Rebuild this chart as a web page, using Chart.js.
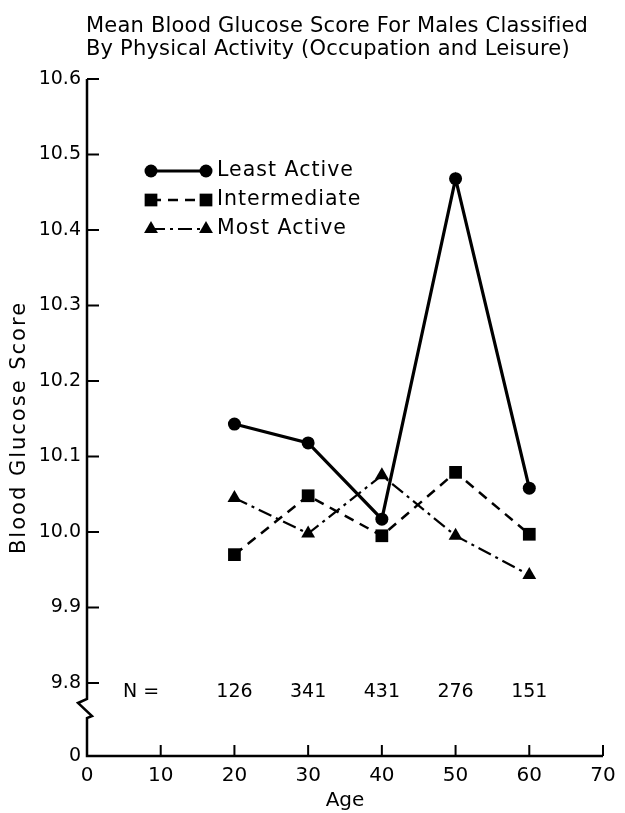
<!DOCTYPE html>
<html>
<head>
<meta charset="utf-8">
<script src="https://cdn.jsdelivr.net/npm/chart.js@4/dist/chart.umd.min.js"></script>
<style>
html,body{margin:0;padding:0;background:#fff;}
#wrap{width:625px;height:813px;}
</style>
</head>
<body>
<div id="wrap"><canvas id="c" width="625" height="813"></canvas></div>
<script>
const titleLines = ["Mean Blood Glucose Score For Males Classified", "By Physical Activity (Occupation and Leisure)"];
const yAxisTitle = "Blood Glucose Score";
const ages = [20, 30, 40, 50, 60];
const leastActive = [10.143, 10.118, 10.017, 10.468, 10.058];
const intermediate = [9.970, 10.048, 9.995, 10.079, 9.997];
const mostActive = [10.045, 9.998, 10.075, 9.995, 9.943];
const sampleSizes = [126, 341, 431, 276, 151];
const yTickValues = [9.8, 9.9, 10.0, 10.1, 10.2, 10.3, 10.4, 10.5, 10.6];
const xTickValues = [0, 10, 20, 30, 40, 50, 60, 70];
const yBreakLabel = "0";
const yBreakMin = 9.7033;

const FONT = "'DejaVu Sans', sans-serif";
Chart.defaults.font.family = FONT;
Chart.defaults.color = '#000';

const pts = arr => ages.map((a, i) => ({x: a, y: arr[i]}));

function marker(ctx, style, r, px, py) {
  ctx.beginPath();
  if (style === 'circle') {
    ctx.arc(px, py, r, 0, Math.PI * 2);
  } else if (style === 'rect') {
    const s = Math.SQRT1_2 * r;
    ctx.rect(px - s, py - s, 2 * s, 2 * s);
  } else if (style === 'triangle') {
    ctx.moveTo(px, py - r);
    ctx.lineTo(px + Math.sin(2 * Math.PI / 3) * r, py - Math.cos(2 * Math.PI / 3) * r);
    ctx.lineTo(px + Math.sin(4 * Math.PI / 3) * r, py - Math.cos(4 * Math.PI / 3) * r);
    ctx.closePath();
  }
  ctx.fill();
}

function spacing(ctx, v) { if ('letterSpacing' in ctx) ctx.letterSpacing = v; }

const titlePlugin = {
  id: 'titleText',
  afterDraw(chart) {
    const {ctx, chartArea: a} = chart;
    ctx.save();
    ctx.fillStyle = '#000';
    ctx.font = "21px " + FONT;
    spacing(ctx, '0.2px');
    ctx.textAlign = 'left';
    ctx.textBaseline = 'alphabetic';
    ctx.fillText(titleLines[0], a.left - 1, 32);
    ctx.fillText(titleLines[1], a.left - 1, 55);
    // y axis title
    ctx.translate(20, (a.top + a.bottom) / 2 + 10);
    ctx.rotate(-Math.PI / 2);
    ctx.font = "21px " + FONT;
    spacing(ctx, '2px');
    ctx.textAlign = 'center';
    ctx.textBaseline = 'middle';
    ctx.fillText(yAxisTitle, 0, 0);
    ctx.restore();
  }
};

const axisPlugin = {
  id: 'axesDraw',
  afterDraw(chart) {
    const {ctx, chartArea: a, scales: {x, y}} = chart;
    ctx.save();
    ctx.strokeStyle = '#000';
    ctx.lineWidth = 2.5;
    ctx.lineJoin = 'miter';
    ctx.setLineDash([]);
    const y98 = y.getPixelForValue(yTickValues[0]);
    const xl = a.left, yb = a.bottom;
    ctx.beginPath();
    ctx.moveTo(xl, a.top);
    ctx.lineTo(xl, y98 + 16);
    ctx.lineTo(xl - 9, y98 + 20);
    ctx.lineTo(xl + 5, y98 + 33);
    ctx.lineTo(xl, y98 + 35);
    ctx.lineTo(xl, yb);
    ctx.lineTo(a.right, yb);
    ctx.stroke();
    ctx.beginPath();
    ctx.lineWidth = 2;
    yTickValues.forEach(v => {
      const p = y.getPixelForValue(v);
      ctx.moveTo(xl, p); ctx.lineTo(xl + 12, p);
    });
    xTickValues.slice(1).forEach(v => {
      const p = x.getPixelForValue(v);
      ctx.moveTo(p, yb); ctx.lineTo(p, yb - 11);
    });
    ctx.stroke();
    ctx.restore();
  }
};

const legendPlugin = {
  id: 'lineLegend',
  afterDraw(chart) {
    const {ctx, chartArea: a} = chart;
    const rows = [92, 121, 150];
    chart.data.datasets.forEach((ds, i) => {
      const yy = a.top + rows[i];
      const x1 = a.left + 64, x2 = a.left + 119;
      ctx.save();
      ctx.strokeStyle = '#000';
      ctx.fillStyle = '#000';
      ctx.lineWidth = ds.borderWidth;
      ctx.setLineDash(ds.borderDash || []);
      ctx.beginPath();
      ctx.moveTo(x1, yy); ctx.lineTo(x2, yy);
      ctx.stroke();
      ctx.setLineDash([]);
      marker(ctx, ds.pointStyle, ds.pointRadius, x1, yy);
      marker(ctx, ds.pointStyle, ds.pointRadius, x2, yy);
      ctx.font = "20.5px " + FONT;
      spacing(ctx, '1px');
      ctx.textAlign = 'left';
      ctx.textBaseline = 'middle';
      ctx.fillText(ds.label, a.left + 130, yy);
      ctx.restore();
    });
  }
};

const nPlugin = {
  id: 'nRow',
  afterDraw(chart) {
    const {ctx, chartArea: a, scales: {x, y}} = chart;
    const yy = y.getPixelForValue(yTickValues[0]) + 9;
    ctx.save();
    ctx.fillStyle = '#000';
    ctx.font = "19px " + FONT;
    ctx.textAlign = 'center';
    ctx.textBaseline = 'middle';
    ctx.fillText('N =', a.left + 54, yy);
    sampleSizes.forEach((n, i) => ctx.fillText(String(n), x.getPixelForValue(ages[i]), yy));
    ctx.restore();
  }
};

new Chart(document.getElementById('c').getContext('2d'), {
  type: 'line',
  data: {
    datasets: [
      {label: 'Least Active', data: pts(leastActive), borderColor: '#000', backgroundColor: '#000',
       pointBackgroundColor: '#000', pointBorderColor: '#000', borderWidth: 3.2, borderDash: [],
       pointStyle: 'circle', pointRadius: 6.5, pointBorderWidth: 0, fill: false, tension: 0},
      {label: 'Intermediate', data: pts(intermediate), borderColor: '#000', backgroundColor: '#000',
       pointBackgroundColor: '#000', pointBorderColor: '#000', borderWidth: 2.5, borderDash: [10, 7],
       pointStyle: 'rect', pointRadius: 9, pointBorderWidth: 0, fill: false, tension: 0},
      {label: 'Most Active', data: pts(mostActive), borderColor: '#000', backgroundColor: '#000',
       pointBackgroundColor: '#000', pointBorderColor: '#000', borderWidth: 2.2, borderDash: [14, 5, 3, 5],
       pointStyle: 'triangle', pointRadius: 8, pointBorderWidth: 0, fill: false, tension: 0}
    ]
  },
  options: {
    responsive: false,
    animation: false,
    events: [],
    layout: {padding: {left: 0, right: 22, top: 79, bottom: 0}},
    plugins: {legend: {display: false}, tooltip: {enabled: false}, title: {display: false}},
    scales: {
      x: {
        type: 'linear', min: 0, max: 70,
        grid: {display: false, drawTicks: false}, border: {display: false},
        afterBuildTicks: s => { s.ticks = xTickValues.map(v => ({value: v})); },
        afterFit: s => { s.height = 57; },
        ticks: {autoSkip: false, maxRotation: 0, padding: 8, font: {size: 20}, callback: v => String(v)},
        title: {display: true, text: 'Age', font: {size: 20}, padding: {top: 0, bottom: 0}}
      },
      y: {
        type: 'linear', min: yBreakMin, max: 10.6,
        grid: {display: false, drawTicks: false}, border: {display: false},
        afterBuildTicks: s => { s.ticks = [yBreakMin, ...yTickValues].map(v => ({value: v})); },
        afterFit: s => { s.width = 87; },
        ticks: {autoSkip: false, padding: 6, font: {size: 19},
                callback: v => (Math.abs(v - yBreakMin) < 1e-6 ? yBreakLabel : Number(v).toFixed(1))},
        title: {display: false}
      }
    }
  },
  plugins: [axisPlugin, legendPlugin, nPlugin, titlePlugin]
});
</script>
</body>
</html>
